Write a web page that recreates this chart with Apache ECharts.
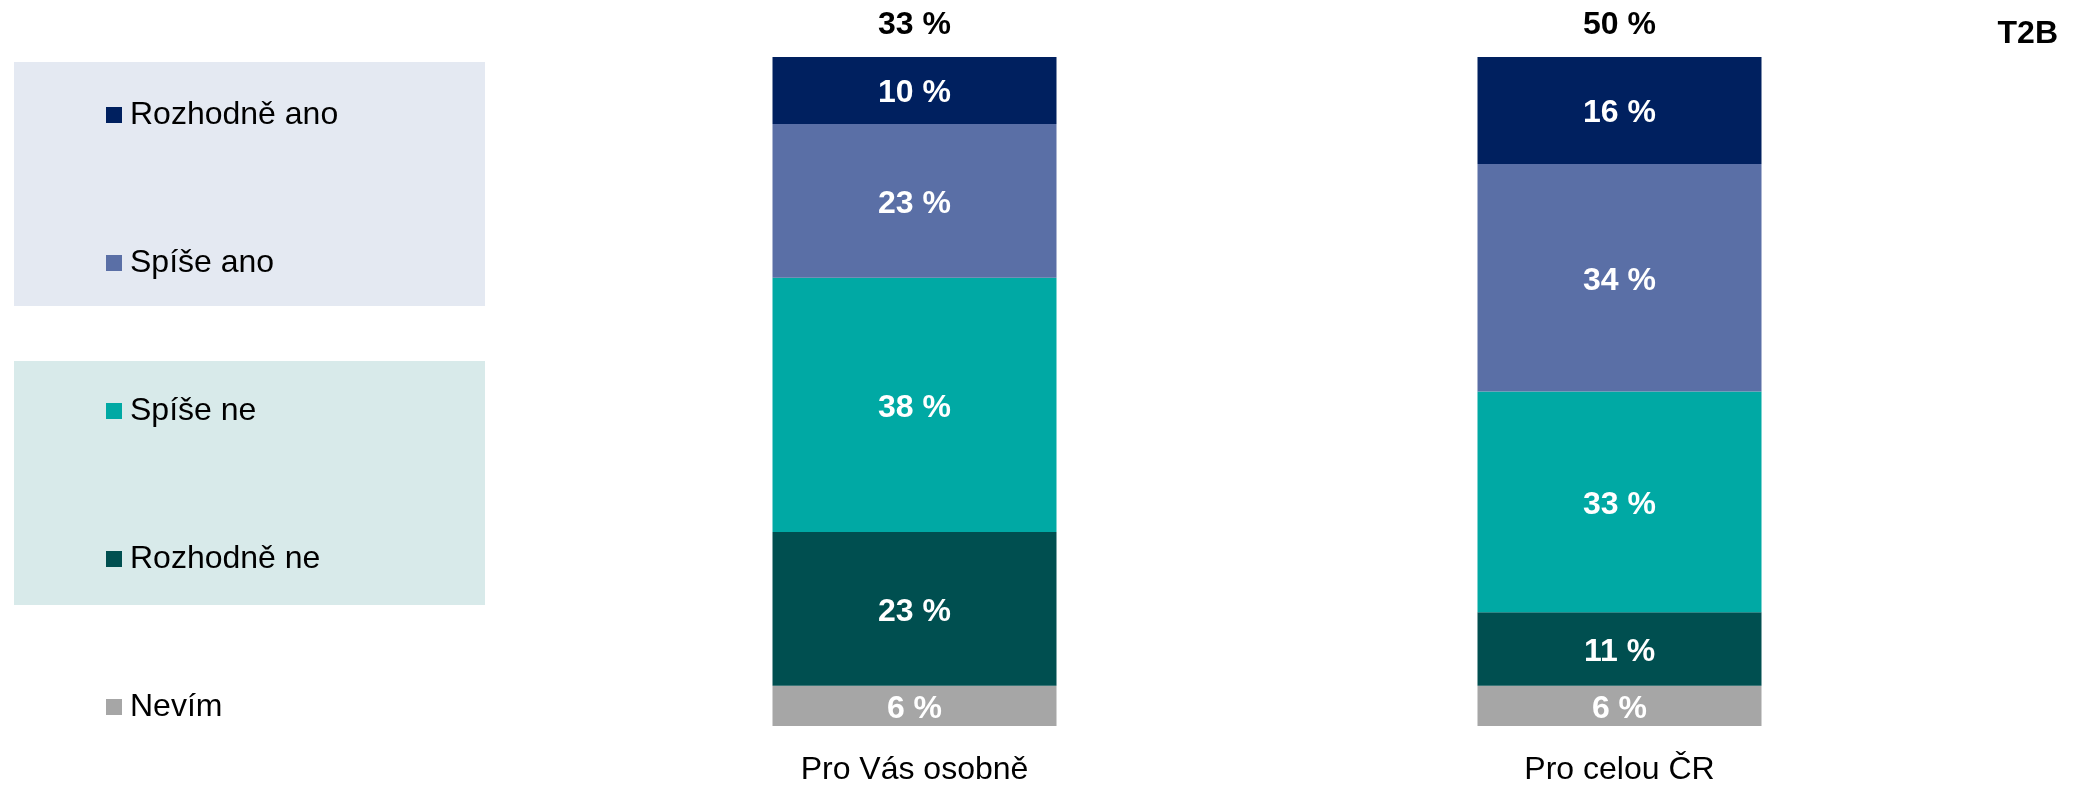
<!DOCTYPE html>
<html>
<head>
<meta charset="utf-8">
<script src="https://cdn.jsdelivr.net/npm/echarts@6/dist/echarts.min.js"></script>
<style>html,body{margin:0;padding:0;background:#fff;}#c{width:2085px;height:786px;}</style>
</head>
<body>
<div id="c"></div>
<script>
var categories = ['Pro Vás osobně', 'Pro celou ČR'];
var seriesNames = ['Nevím', 'Rozhodně ne', 'Spíše ne', 'Spíše ano', 'Rozhodně ano'];
var nevim = [6, 6];
var rozhodneNe = [23, 11];
var spiseNe = [38, 33];
var spiseAno = [23, 34];
var rozhodneAno = [10, 16];
var t2b = [33, 50];
var legendOrder = ['Rozhodně ano', 'Spíše ano', 'Spíše ne', 'Rozhodně ne', 'Nevím'];
var colors = {'Nevím': '#A6A6A6', 'Rozhodně ne': '#004F50', 'Spíše ne': '#00A9A4', 'Spíše ano': '#5A6FA6', 'Rozhodně ano': '#00205F'};
var values = [nevim, rozhodneNe, spiseNe, spiseAno, rozhodneAno];

var FONT = '"Liberation Sans", Arial, sans-serif';
var chart = echarts.init(document.getElementById('c'));

var series = seriesNames.map(function (n, i) {
  return {
    name: n, type: 'bar', stack: 'total', barWidth: 284,
    itemStyle: {color: colors[n]},
    label: {show: true, position: 'inside', offset: [0, 3], color: '#fff', fontFamily: FONT, fontWeight: 'bold', fontSize: 32, lineHeight: 32,
      formatter: function (p) { return p.value + ' %'; }},
    emphasis: {disabled: true},
    data: values[i]
  };
});
series.push({
  name: 'T2B', type: 'bar', stack: 'total', barWidth: 284,
  itemStyle: {color: 'transparent'},
  label: {show: true, position: 'top', distance: 16, color: '#000', fontFamily: FONT, fontWeight: 'bold', fontSize: 32, lineHeight: 32,
    formatter: function (p) { return t2b[p.dataIndex] + ' %'; }},
  emphasis: {disabled: true},
  data: t2b.map(function () { return 0; })
});

chart.setOption({
  animation: false,
  backgroundColor: '#fff',
  grid: {left: 562, right: 113, top: 57, bottom: 56, containLabel: false},
  graphic: [
    {type: 'rect', left: 14, top: 62, shape: {width: 471, height: 244}, style: {fill: '#E4E9F2'}, z: -10},
    {type: 'rect', left: 14, top: 361, shape: {width: 471, height: 244}, style: {fill: '#D8EAEA'}, z: -10},
    {type: 'text', right: 27, top: 18, style: {text: 'T2B', fill: '#000', font: 'bold 32px "Liberation Sans", Arial, sans-serif'}}
  ],
  legend: {
    orient: 'vertical', left: 106, top: 99, padding: 0,
    itemWidth: 16, itemHeight: 16, itemGap: 116,
    icon: 'rect',
    data: legendOrder,
    selectedMode: false,
    textStyle: {fontFamily: FONT, fontSize: 32, lineHeight: 32, color: '#000', padding: [0, 0, 0, 3]}
  },
  xAxis: {
    type: 'category', data: categories,
    axisLine: {show: false}, axisTick: {show: false},
    axisLabel: {fontFamily: FONT, fontSize: 32, color: '#000', margin: 28}
  },
  yAxis: {type: 'value', min: 0, max: 100, show: false, splitLine: {show: false}},
  series: series
});
</script>
</body>
</html>
